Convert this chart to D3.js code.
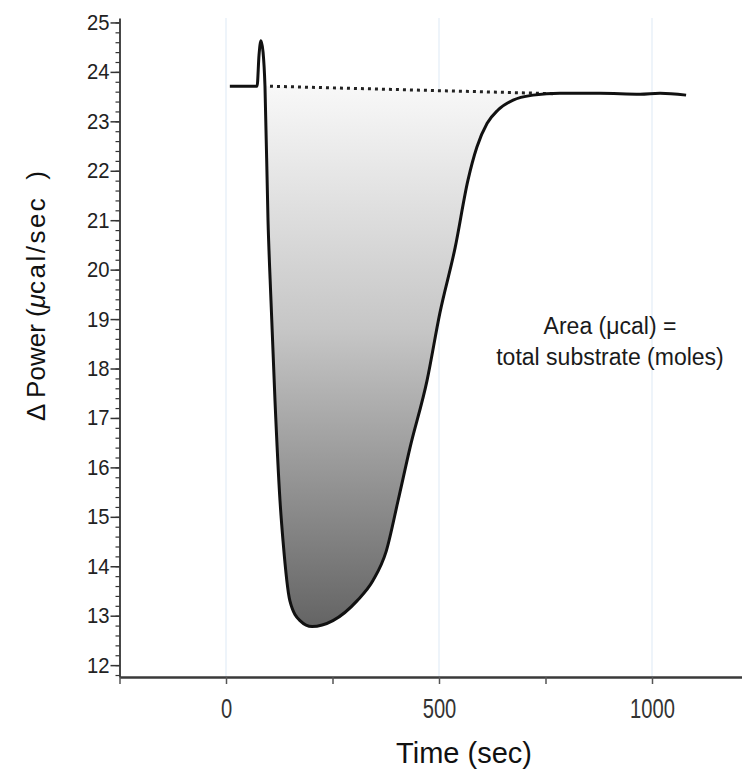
<!DOCTYPE html>
<html><head><meta charset="utf-8">
<script src="https://cdn.jsdelivr.net/npm/d3@7"></script>
<style>body{margin:0;background:#fff;} svg{display:block;}</style>
</head><body><svg id="c" width="742" height="774"></svg>
<script>
// ---- data ----
const timeSec  = [9, 73, 77.5, 82, 87, 91.5, 98.6, 105.6, 115, 126.8, 133.8, 150, 173.7, 202, 251, 307.5, 345, 376, 404, 432, 472, 502, 538, 568, 589, 613, 638.5, 674, 721, 784, 878, 972, 1019, 1080];
const powerVal = [23.71, 23.71, 24.34, 24.63, 24.40, 23.71, 21.0, 19.37, 17.35, 15.32, 14.52, 13.30, 12.90, 12.78, 12.90, 13.30, 13.71, 14.30, 15.33, 16.40, 17.76, 19.12, 20.45, 21.81, 22.48, 22.96, 23.23, 23.43, 23.53, 23.57, 23.57, 23.55, 23.57, 23.53];
const baselineTime  = [91.5, 784];
const baselinePower = [23.71, 23.57];
const yMajorTicks = d3.range(12, 26, 1);
const yMinorTicks = d3.range(11.8, 25.01, 0.2).map(v => +v.toFixed(1));
const xTicks  = [-250, 0, 250, 500, 750, 1000, 1250];
const xLabels = [0, 500, 1000];
const gridTimes = [0, 500, 1000];
const annotation = ["Area (\u03bccal) =", "total substrate (moles)"];

// ---- scales ----
const svg = d3.select("#c");
const x = d3.scaleLinear().domain([-250, 1250]).range([119.5, 758.5]);
const y = d3.scaleLinear().domain([11.76, 25.09]).range([677, 18]);
const pts = timeSec.map((t, i) => ({t, v: powerVal[i]}));
const base = d3.scaleLinear().domain(baselineTime).range(baselinePower);

// gradient
const defs = svg.append("defs");
const grad = defs.append("linearGradient").attr("id", "g")
  .attr("gradientUnits", "userSpaceOnUse")
  .attr("x1", 0).attr("x2", 0).attr("y1", y(23.7)).attr("y2", y(12.78));
grad.append("stop").attr("offset", 0).attr("stop-color", "#f8f8f8");
grad.append("stop").attr("offset", 0.45).attr("stop-color", "#c6c6c6");
grad.append("stop").attr("offset", 1).attr("stop-color", "#646464");

// faint gridlines
svg.append("g").selectAll("line").data(gridTimes).join("line")
  .attr("x1", d => x(d)).attr("x2", d => x(d))
  .attr("y1", y(25.09)).attr("y2", y(11.76))
  .attr("stroke", "#e8f0f8").attr("stroke-width", 1.5);

// filled area
const areaPts = pts.filter(p => p.t >= baselineTime[0] && p.t <= baselineTime[1]);
svg.append("path").datum(areaPts)
  .attr("d", d3.area().curve(d3.curveMonotoneX)
    .x(d => x(d.t)).y0(d => y(base(d.t))).y1(d => y(d.v)))
  .attr("fill", "url(#g)");

// dotted baseline
svg.append("line")
  .attr("x1", x(baselineTime[0]) + 5).attr("y1", y(baselinePower[0]))
  .attr("x2", x(baselineTime[1]) - 7).attr("y2", y(baselinePower[1]) + 0.5)
  .attr("stroke", "#222").attr("stroke-width", 3).attr("stroke-dasharray", "3,4");

// curve
svg.append("path").datum(pts)
  .attr("d", d3.line().curve(d3.curveMonotoneX).x(d => x(d.t)).y(d => y(d.v)))
  .attr("fill", "none").attr("stroke", "#111").attr("stroke-width", 3)
  .attr("stroke-linejoin", "round");

// y axis minor
const yMinor = svg.append("g").attr("transform", `translate(${x(-250)},0)`)
  .call(d3.axisLeft(y).tickValues(yMinorTicks).tickSize(4).tickSizeOuter(0).tickFormat(""));
yMinor.selectAll("line").attr("stroke", "#333").attr("stroke-width", 1.2);
yMinor.select(".domain").attr("stroke", "#333").attr("stroke-width", 1.8);
// y axis major
const yMaj = svg.append("g").attr("transform", `translate(${x(-250)},0)`)
  .call(d3.axisLeft(y).tickValues(yMajorTicks).tickSize(9).tickSizeOuter(0).tickPadding(2));
yMaj.select(".domain").remove();
yMaj.selectAll("line").attr("stroke", "#333").attr("stroke-width", 1.5);
yMaj.selectAll("text").attr("font-family", "'Liberation Sans', Arial, sans-serif")
  .attr("font-size", 22).attr("fill", "#222")
  .attr("transform", "scale(0.92,1)");

// x axis
const xAx = svg.append("g").attr("transform", `translate(0,${y(11.76)})`)
  .call(d3.axisBottom(x).tickValues(xTicks).tickSize(7).tickSizeOuter(0).tickPadding(14)
    .tickFormat(d => xLabels.includes(d) ? d : ""));
xAx.select(".domain").attr("stroke", "#3a3a3a").attr("stroke-width", 2.5);
xAx.selectAll("line").attr("stroke", "#555").attr("stroke-width", 1.5);
xAx.selectAll("text").attr("font-family", "'Liberation Sans', Arial, sans-serif")
  .attr("font-size", 28).attr("fill", "#333")
  .attr("transform", "scale(0.72,1)");

// axis titles
svg.append("text").attr("x", 464).attr("y", 763).attr("text-anchor", "middle")
  .attr("font-family", "'Liberation Sans', Arial, sans-serif").attr("font-size", 29).attr("fill", "#111")
  .text("Time (sec)");

const yt = svg.append("text").attr("transform", "translate(45,296) rotate(-90)")
  .attr("text-anchor", "middle")
  .attr("font-family", "'Liberation Sans', Arial, sans-serif").attr("font-size", 26).attr("fill", "#111");
yt.append("tspan").text("\u0394 Power (");
yt.append("tspan").attr("font-style", "italic").text("\u03bc");
yt.append("tspan").attr("letter-spacing", 2.5).text("cal/sec");
yt.append("tspan").attr("dx", 16).text(")");

// annotation
svg.append("g").selectAll("text").data(annotation).join("text")
  .attr("x", 610).attr("y", (d, i) => 334 + i * 31).attr("text-anchor", "middle")
  .attr("font-family", "'Liberation Sans', Arial, sans-serif").attr("font-size", 23).attr("fill", "#1a1a1a")
  .text(d => d);
</script></body></html>
